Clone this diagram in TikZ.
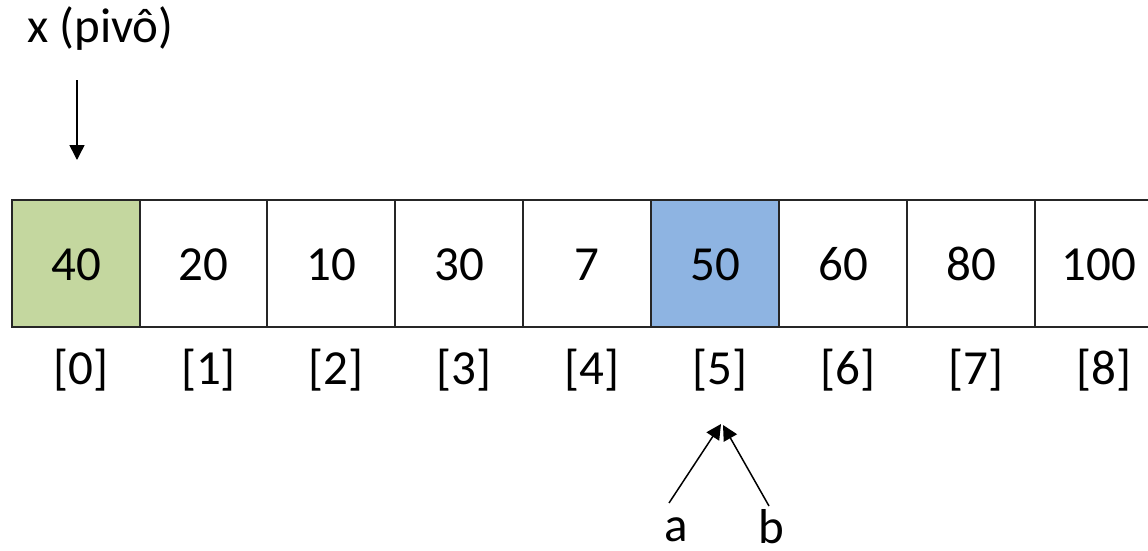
\documentclass[tikz,border=0pt]{standalone}
\usepackage{fontspec}
\setmainfont{Carlito}
\usetikzlibrary{arrows.meta}
\definecolor{pivgreen}{HTML}{C4D79F}
\definecolor{selblue}{HTML}{8EB4E2}
\tikzset{
  cell/.style={draw=black!85, line width=1.5pt, minimum width=128pt, minimum height=127pt, inner sep=0pt, outer sep=0pt, anchor=north west},
  big/.style={font=\fontsize{49}{52}\selectfont, inner sep=0pt},
  idx/.style={big, anchor=base},
  ptr/.style={line width=1.5pt, -{Triangle[length=15pt,width=15pt]}},
}
\begin{document}
\begin{tikzpicture}[x=1pt,y=-1pt]
\useasboundingbox (0,0) rectangle (1148,551);
\begin{scope}
\clip (0,0) rectangle (1148,551);
\node[cell, fill=pivgreen] (c0) at (12,200) {};
\node[cell] (c1) at (139.5,200) {};
\node[cell] (c2) at (267,200) {};
\node[cell] (c3) at (395,200) {};
\node[cell] (c4) at (523,200) {};
\node[cell, fill=selblue] (c5) at (651,200) {};
\node[cell] (c6) at (779,200) {};
\node[cell] (c7) at (907,200) {};
\node[cell] (c8) at (1035,200) {};
\end{scope}
\foreach \i/\v in {0/40,1/20,2/10,3/30,4/7,5/50,6/60,7/80,8/100}{
  \node[idx] (v\i) at ([yshift=-17pt]c\i.center) {\v};
  \node[idx] (i\i) at ([xshift=5pt,yshift=-121pt]c\i.center) {[\i]};
}
\node[big, anchor=base west] (x) at (27,43) {x (pivô)};
\coordinate (ps) at (77,80);
\coordinate (pe) at (77,160);
\draw[ptr] (ps) -- (pe);
\node[big, anchor=base] (a) at (676,541) {a};
\node[big, anchor=base] (b) at (771,543) {b};
\coordinate (as) at (669,503);
\coordinate (at) at (721,424);
\coordinate (bs) at (769,506);
\coordinate (bt) at (723,425);
\draw[ptr] (as) -- (at);
\draw[ptr] (bs) -- (bt);
\end{tikzpicture}
\end{document}
